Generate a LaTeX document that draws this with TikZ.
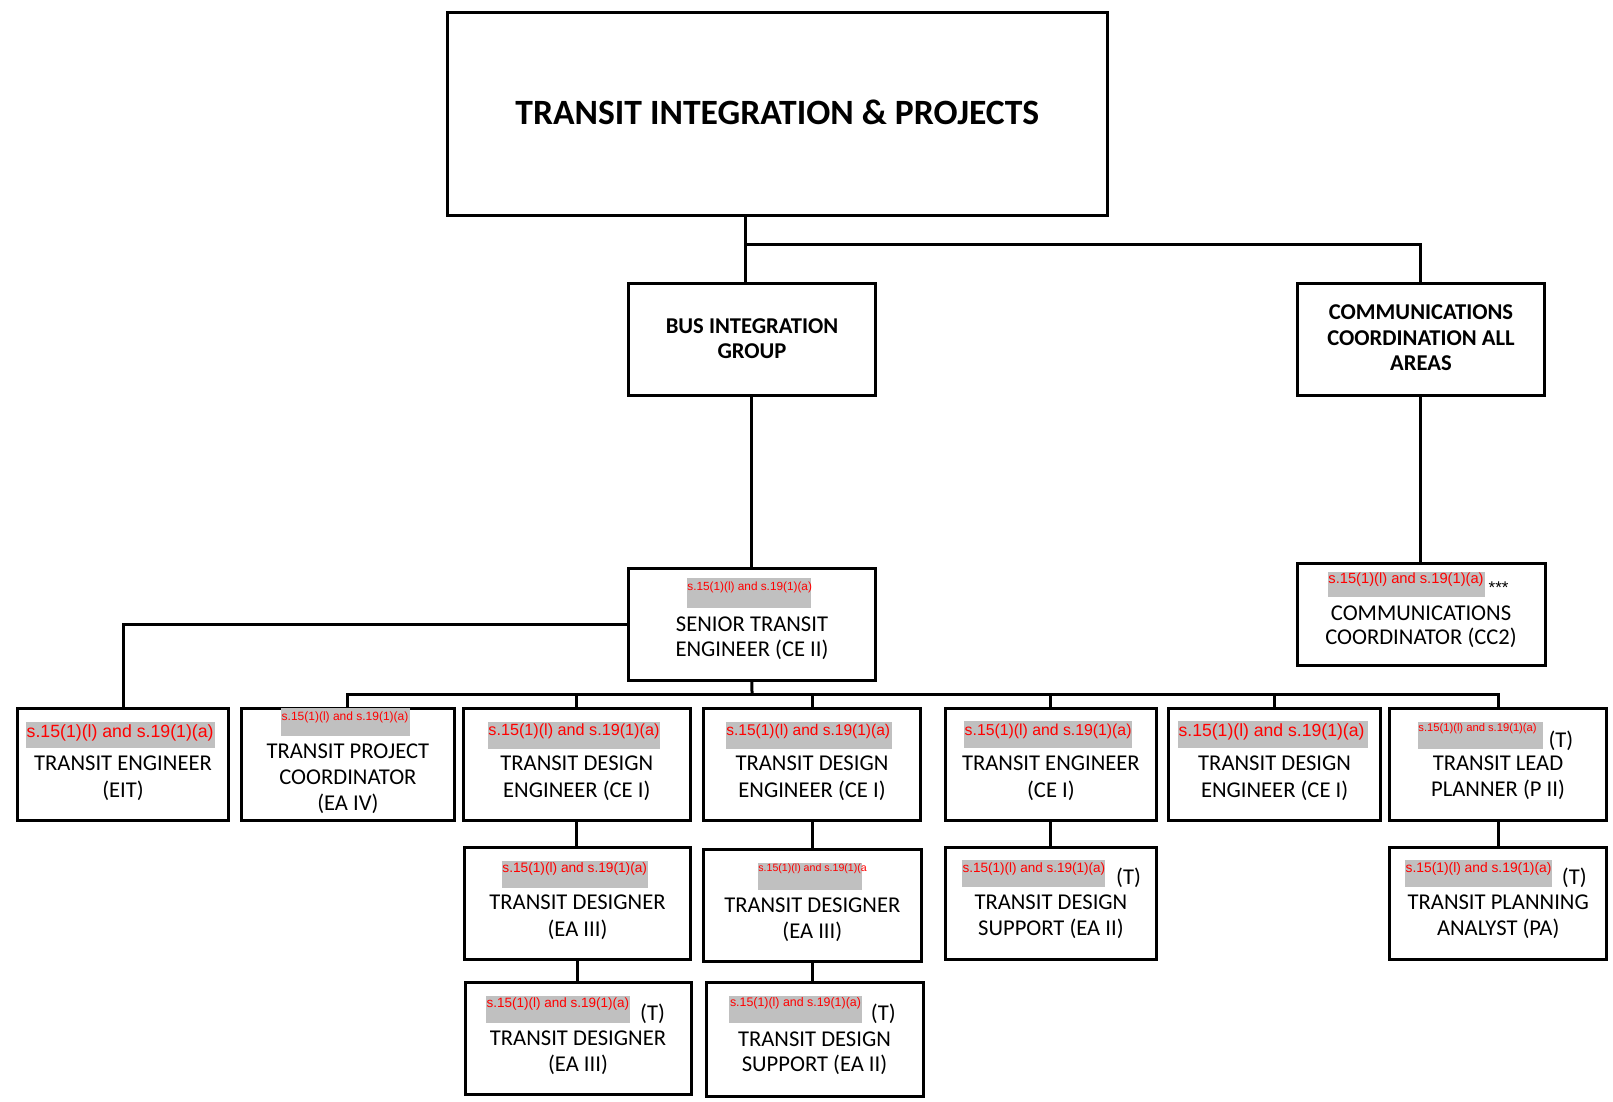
\documentclass[tikz,border=0pt]{standalone}
\usepackage{fontspec}
\setmainfont{Carlito}
\newfontfamily\redfont{Liberation Sans}
\usetikzlibrary{calc}
\definecolor{redactgray}{HTML}{C0C0C0}
\definecolor{redtxt}{HTML}{FF0000}
\newcommand\bodyfont{\fontsize{22.6}{26}\selectfont}
\tikzset{
  orgbox/.style={draw=black, line width=3pt, fill=white, inner sep=0pt, anchor=center},
  conn/.style={draw=black, line width=3pt},
  lbl/.style={anchor=base, inner sep=0pt, font=\bodyfont},
  blbl/.style={anchor=base, inner sep=0pt, font=\bodyfont\bfseries},
  tlbl/.style={anchor=base west, inner sep=0pt, font=\bodyfont},
  graybox/.style={draw=none, fill=redactgray, inner sep=0pt, anchor=center},
  redlbl/.style={anchor=base west, inner sep=0pt, text=redtxt}
}
\newcommand\orgbx[5]{\node[orgbox, minimum width={#4-#2}, minimum height={#5-#3}] (#1) at ({(#2+#4)/2},{(#3+#5)/2}) {};}
\newcommand\redact[8]{\node[graybox, minimum width={#4-#2}, minimum height={#5-#3}] (#1) at ({(#2+#4)/2},{(#3+#5)/2}) {};
  \node[redlbl, font=\redfont\fontsize{#6}{#6}\selectfont] (#1-t) at ({#2+0.5},#7) {#8};}
\newcommand\redtext{s.15(1)(l) and s.19(1)(a)}
\begin{document}
\begin{tikzpicture}[x=1pt,y=-1pt]
\useasboundingbox (0,0) rectangle (1613,1102);
\fill[white] (0,0) rectangle (1613,1102);

% boxes
\orgbx{top}{447.5}{12.5}{1107}{215}
\orgbx{bus}{628.5}{283}{875.4}{395}
\orgbx{comm}{1297.2}{283}{1544.5}{395}
\orgbx{senior}{628.5}{568}{875.4}{680}
\orgbx{cc}{1297.3}{563}{1545}{665}
\orgbx{eit}{17.5}{708}{228.5}{820}
\orgbx{tpc}{241.7}{708}{454}{820}
\orgbx{tde1}{463.5}{708}{690}{820}
\orgbx{tde2}{703.5}{708}{920.5}{820}
\orgbx{tece}{945.4}{708}{1156.3}{820}
\orgbx{tde3}{1168.6}{708}{1380.5}{820}
\orgbx{tlp}{1389.8}{708}{1606.5}{820}
\orgbx{td1}{464.5}{847}{690.5}{959}
\orgbx{td2}{703.5}{849.5}{921}{961.5}
\orgbx{tds}{945.4}{847}{1156.3}{959}
\orgbx{tpa}{1389.8}{847}{1606.5}{959}
\orgbx{td3}{465}{982.7}{691}{1094.3}
\orgbx{tdsb}{706}{982.7}{923}{1096}

% connectors
\coordinate (j1) at (745,244);
\coordinate (j2) at (752,694);
\draw[conn] (top.south -| j1) -- (bus.north -| j1);
\draw[conn] (j1) -| (comm.north);
\draw[conn] (bus.south) -- (senior.north);
\draw[conn] (comm.south) -- (comm.south |- cc.north);
\draw[conn] (senior.west) -| (eit.north);
\draw[conn] (senior.south) -- (j2);
\draw[conn] (tpc.north) -- (tpc.north |- j2) -- (tlp.north |- j2) -- (tlp.north);
\draw[conn] (tde1.north) -- (tde1.north |- j2);
\draw[conn] (tde2.north) -- (tde2.north |- j2);
\draw[conn] (tece.north) -- (tece.north |- j2);
\draw[conn] (tde3.north) -- (tde3.north |- j2);
\draw[conn] (tde1.south) -- (tde1.south |- td1.north);
\draw[conn] (tde2.south) -- (tde2.south |- td2.north);
\draw[conn] (tece.south) -- (tds.north);
\draw[conn] (tlp.south) -- (tpa.north);
\draw[conn] (td1.south) -- (td1.south |- td3.north);
\draw[conn] (td2.south) -- (td2.south |- tdsb.north);

% titles
\node[anchor=base, inner sep=0pt, font=\fontsize{35.6}{40}\selectfont\bfseries] (top-t) at (777.3,124.3) {TRANSIT INTEGRATION \& PROJECTS};
\node[blbl] (bus-t1) at (752,333.1) {BUS INTEGRATION};
\node[blbl] (bus-t2) at (752,358.5) {GROUP};
\node[blbl] (comm-t1) at (1421,319.8) {COMMUNICATIONS};
\node[blbl] (comm-t2) at (1421,345.8) {COORDINATION ALL};
\node[blbl] (comm-t3) at (1421,370.6) {AREAS};

% body labels
\node[lbl] (senior-t1) at (752,631.8) {SENIOR TRANSIT};
\node[lbl] (senior-t2) at (752,656) {ENGINEER (CE II)};
\node[lbl] (cc-t1) at (1421,620.6) {COMMUNICATIONS};
\node[lbl] (cc-t2) at (1421,644.8) {COORDINATOR (CC2)};
\node[lbl] (eit-t1) at (123,770.8) {TRANSIT ENGINEER};
\node[lbl] (eit-t2) at (123,797.3) {(EIT)};
\node[lbl] (tpc-t1) at (347.9,758.3) {TRANSIT PROJECT};
\node[lbl] (tpc-t2) at (347.9,784.8) {COORDINATOR};
\node[lbl] (tpc-t3) at (347.9,810.6) {(EA IV)};
\node[lbl] (tde1-t1) at (576.8,770.8) {TRANSIT DESIGN};
\node[lbl] (tde1-t2) at (576.8,797) {ENGINEER (CE I)};
\node[lbl] (tde2-t1) at (812,770.8) {TRANSIT DESIGN};
\node[lbl] (tde2-t2) at (812,797) {ENGINEER (CE I)};
\node[lbl] (tece-t1) at (1050.9,770.8) {TRANSIT ENGINEER};
\node[lbl] (tece-t2) at (1050.9,797) {(CE I)};
\node[lbl] (tde3-t1) at (1274.6,770.8) {TRANSIT DESIGN};
\node[lbl] (tde3-t2) at (1274.6,797) {ENGINEER (CE I)};
\node[lbl] (tlp-t1) at (1498,770.8) {TRANSIT LEAD};
\node[lbl] (tlp-t2) at (1498,796.8) {PLANNER (P II)};
\node[lbl] (td1-t1) at (577.5,909.8) {TRANSIT DESIGNER};
\node[lbl] (td1-t2) at (577.5,936.1) {(EA III)};
\node[lbl] (td2-t1) at (812.3,912.3) {TRANSIT DESIGNER};
\node[lbl] (td2-t2) at (812.3,938.5) {(EA III)};
\node[lbl] (tds-t1) at (1050.9,909.5) {TRANSIT DESIGN};
\node[lbl] (tds-t2) at (1050.9,935.3) {SUPPORT (EA II)};
\node[lbl] (tpa-t1) at (1498.2,909.5) {TRANSIT PLANNING};
\node[lbl] (tpa-t2) at (1498.2,935.3) {ANALYST (PA)};
\node[lbl] (td3-t1) at (578,1045.1) {TRANSIT DESIGNER};
\node[lbl] (td3-t2) at (578,1071.1) {(EA III)};
\node[lbl] (tdsb-t1) at (814.5,1046.5) {TRANSIT DESIGN};
\node[lbl] (tdsb-t2) at (814.5,1071.1) {SUPPORT (EA II)};

% (T) marks
\node[tlbl] (tlp-T) at (1548.3,747.3) {(T)};
\node[tlbl] (tds-T) at (1116,884.8) {(T)};
\node[tlbl] (tpa-T) at (1561.7,884.8) {(T)};
\node[tlbl] (td3-T) at (640,1020) {(T)};
\node[tlbl] (tdsb-T) at (870.7,1020) {(T)};

% redactions
\redact{senior-r}{686.7}{578.3}{810.7}{607.7}{11.8}{590.9}{\redtext}
\redact{cc-r}{1327.7}{571.7}{1485}{597.3}{14.7}{583.6}{\redtext}
\node[anchor=base west, inner sep=0pt, font=\redfont\fontsize{17}{17}\selectfont] (cc-ast) at (1488.5,593) {***};
\redact{eit-r}{26}{722.3}{215}{748.3}{17.7}{737}{\redtext}
\redact{tpc-r}{281}{708.3}{410}{735.7}{12}{720}{\redtext}
\redact{tde1-r}{487.7}{721.7}{660}{749}{16.2}{735.8}{\redtext}
\redact{tde2-r}{725.7}{721.7}{892}{749}{15.5}{735.6}{\redtext}
\redact{tece-r}{964}{721}{1131.6}{748}{15.8}{735.5}{\redtext}
\redact{tde3-r}{1177.9}{721}{1368.2}{748}{17.6}{736.5}{\redtext}
\redact{tlp-r}{1417.7}{721.7}{1543.3}{749}{11.2}{731.3}{\redtext}
\redact{td1-r}{501.7}{860.7}{647.7}{887.7}{13.7}{872.2}{\redtext}
\redact{td2-r}{757.7}{863.3}{861.7}{890}{10.6}{871}{s.15(1)(l) and s.19(1)(a}
\redact{tds-r}{962}{860}{1105}{886.8}{13.5}{872}{\redtext}
\redact{tpa-r}{1405}{860}{1551.5}{886.8}{13.8}{872}{\redtext}
\redact{td3-r}{486}{996}{630}{1022.7}{13.5}{1007.5}{\redtext}
\redact{tdsb-r}{729.3}{996}{861.7}{1022.7}{12.4}{1006.7}{\redtext}
\end{tikzpicture}
\end{document}
